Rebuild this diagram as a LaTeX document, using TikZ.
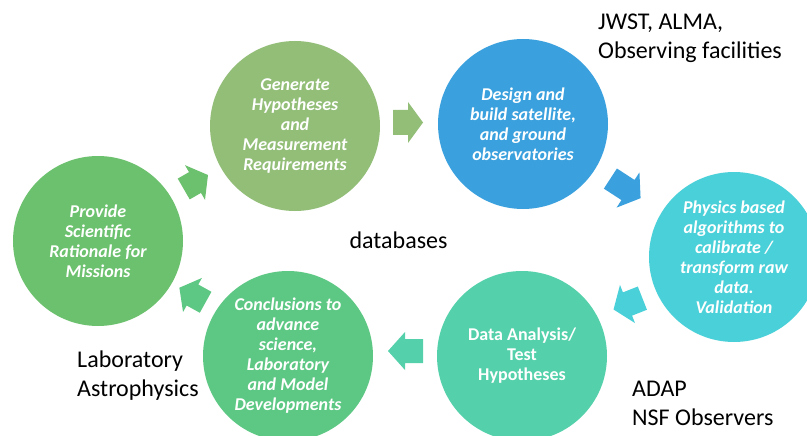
\documentclass[tikz,border=0pt]{standalone}
\usepackage{fontspec}
\setmainfont{Carlito}
\definecolor{cA}{HTML}{6CC16E}
\definecolor{cB}{HTML}{92BE78}
\definecolor{cC}{HTML}{3AA1DE}
\definecolor{cD}{HTML}{4AD0D8}
\definecolor{cE}{HTML}{54D1AA}
\definecolor{cF}{HTML}{5DC884}
\tikzset{
  circ/.style={circle, minimum size=170pt, inner sep=0pt, text=white, align=center,
    font=\fontsize{18}{20}\selectfont\bfseries\itshape},
  label/.style={inner sep=0pt, align=left, font=\fontsize{24}{29}\selectfont},
}
% position, angle, colour, shaft length, head length, half shaft width, half head width
\newcommand\blockarrow[7]{%
  \fill[#3, shift={(#1)}, rotate=#2]
    (-#4,-#6) -- (0,-#6) -- (0,-#7) -- (#5,0) -- (0,#7) -- (0,#6) -- (-#4,#6) -- cycle;}
\begin{document}
\begin{tikzpicture}[x=1pt, y=-1pt]
\useasboundingbox (0,0) rectangle (807,436);
\clip (0,0) rectangle (807,436);
\fill[white] (0,0) rectangle (807,436);

\node[circ, fill=cA] (c1) at (98,241) {Provide\\Scientific\\Rationale for\\Missions};
\node[circ, fill=cB] (c2) at (295,126) {Generate\\Hypotheses\\and\\Measurement\\Requirements};
\node[circ, fill=cC] (c3) at (523,124) {Design and\\build satellite,\\and ground\\observatories};
\node[circ, fill=cD] (c4) at (734,257) {Physics based\\algorithms to\\calibrate /\\transform raw\\data.\\Validation};
\node[circ, fill=cE, font=\fontsize{18}{20}\selectfont\bfseries] (c5) at (522,356) {Data Analysis/\\Test\\Hypotheses};
\node[circ, fill=cF] (c6) at (288,356) {Conclusions to\\advance\\science,\\Laboratory\\and Model\\Developments};

\blockarrow{195,182.5}{30}{cA}{13}{15}{12}{20}
\blockarrow{408,122.5}{0}{cB}{15}{15}{12.5}{20.5}
\blockarrow{628,190}{-33}{cC}{21}{15}{12}{21}
\blockarrow{627.5,304}{201.5}{cD}{16}{15}{12.5}{20.5}
\blockarrow{405,351}{180}{cE}{18}{17}{12}{19}
\blockarrow{192.5,295}{151}{cF}{15}{15}{12}{19.5}

\node[label, anchor=west] (l1) at (598,38) {JWST, ALMA,\\Observing facilities};
\node[label, anchor=center] (l2) at (398.5,240) {databases};
\node[label, anchor=west] (l3) at (77,376) {Laboratory\\Astrophysics};
\node[label, anchor=west] (l4) at (632,403) {ADAP\\NSF Observers};
\end{tikzpicture}
\end{document}
